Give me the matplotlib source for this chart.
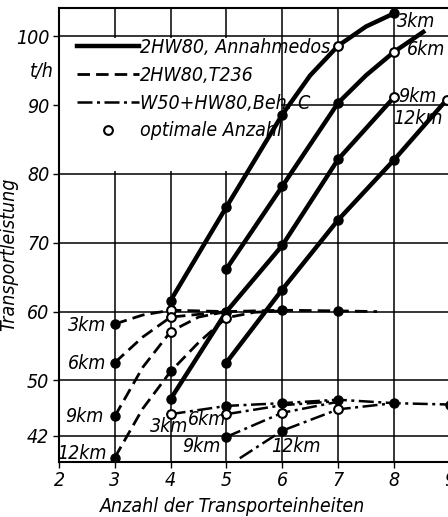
import matplotlib
matplotlib.use("Agg")
import matplotlib.pyplot as plt
from matplotlib import font_manager as fm
from matplotlib.lines import Line2D
from matplotlib.patches import Rectangle

# narrow italic lettering like the original; take what is installed
fonts = fm.fontManager.ttflist
if any(f.name == 'Liberation Sans Narrow' for f in fonts):
    plt.rcParams['font.family'] = ['Liberation Sans Narrow', 'DejaVu Sans']
elif any(f.name == 'DejaVu Sans' and 'ondensed' in f.fname for f in fonts):
    plt.rcParams['font.family'] = ['DejaVu Sans']
    plt.rcParams['font.stretch'] = 'condensed'
else:
    plt.rcParams['font.family'] = ['Liberation Sans', 'DejaVu Sans']
plt.rcParams['font.style'] = 'italic'
FS = 14

# x = Anzahl der Transporteinheiten, y = t/h
dist_labels = ['3km', '6km', '9km', '12km']

# 2HW80, Annahmedos. (solid)
annahme_x = [[4, 5, 6, 6.5, 7, 7.5, 8], [5, 6, 7, 7.5, 8, 8.56], [4, 5, 6, 7, 8], [5, 6, 7, 8, 8.95]]
annahme_y = [[61.6, 75.2, 88.6, 94.3, 98.6, 101.4, 103.3],
             [66.2, 78.2, 90.3, 94.3, 97.7, 100.8],
             [47.3, 60.0, 69.6, 82.1, 91.1],
             [52.6, 63.2, 73.3, 82.0, 90.8]]
annahme_marks = ['fff-o-f', 'ff-fo-', 'ffffo', 'ffffo']
annahme_marks[1] = 'fff-o-'

# 2HW80, T236 (dashed)
t236_x = [[3, 3.5, 4, 5, 6, 7, 7.7], [3, 3.5, 4, 5], [3, 3.5, 4, 4.5, 5], [3, 3.5, 4, 4.5, 5, 5.5, 6]]
t236_y = [[58.2, 59.5, 60.2, 60.0, 60.2, 60.1, 60.0],
          [52.6, 56.3, 59.2, 60.0],
          [44.8, 51.9, 57.1, 59.2, 60.0],
          [38.8, 45.9, 51.3, 55.5, 59.1, 59.9, 60.1]]
t236_marks = ['f-offf-', 'f-o-', 'f-o--', 'f-f-o--']

# W50+HW80, Beh. C (dash-dot)
behc_x = [[4, 5, 6, 7, 8, 9], [5, 6, 7], [5, 6, 7], [5.24, 6, 7, 8]]
behc_y = [[45.1, 46.3, 46.7, 47.2, 46.7, 46.5],
          [45.1, 46.4, 47.0],
          [41.8, 45.3, 46.9],
          [38.7, 42.7, 45.8, 46.7]]
behc_marks = ['offfff', 'o--', 'fo-', '-fo-']

xticks = [2, 3, 4, 5, 6, 7, 8, 9]
yticks = [42, 50, 60, 70, 80, 90, 100]

fig = plt.figure(figsize=(4.48, 5.17), dpi=100)
ax = fig.add_axes([0.1317, 0.107, 0.872, 0.8776])
ax.set_xlim(2, 9)
ax.set_ylim(38.2, 104.1)
ax.set_xticks(xticks)
ax.set_yticks(yticks)
ax.grid(True, color='black', linewidth=1.1)
ax.set_axisbelow(True)
for s in ax.spines.values():
    s.set_linewidth(1.5)
ax.spines['right'].set_visible(False)
ax.tick_params(length=4, width=1, pad=3, labelsize=FS)

# white area behind the legend
ax.add_patch(Rectangle((2.02, 80.4), 3.95, 19.3, facecolor='white', edgecolor='none', zorder=1))

SOLID = '-'
DASHED = (0, (4.5, 2.2))
DASHDOT = (0, (6, 1.8, 1.2, 1.8))


def draw(xs, ys, marks, ls, lw):
    for x, y, m in zip(xs, ys, marks):
        ax.plot(x, y, color='black', linestyle=ls, linewidth=lw, zorder=3,
                solid_capstyle='butt', dash_capstyle='butt', solid_joinstyle='round')
        for xi, yi, mi in zip(x, y, m):
            if mi == 'f':
                ax.plot(xi, yi, 'o', color='black', markersize=6.5, zorder=4)
            elif mi == 'o':
                ax.plot(xi, yi, 'o', mfc='white', mec='black', mew=1.5, markersize=6.3, zorder=5)


draw(annahme_x, annahme_y, annahme_marks, SOLID, 3.2)
draw(t236_x, t236_y, t236_marks, DASHED, 2.0)
draw(behc_x, behc_y, behc_marks, DASHDOT, 1.8)

# curve labels
for lab, (x, y) in zip(dist_labels, [(8.05, 102.1), (8.23, 98.0), (8.08, 91.2), (7.99, 88.1)]):
    ax.text(x, y, lab, ha='left', va='center', fontsize=FS, zorder=6)
for lab, (x, y) in zip(dist_labels, [(2.84, 58.0), (2.84, 52.4), (2.80, 44.8), (2.86, 39.4)]):
    ax.text(x, y, lab, ha='right', va='center', fontsize=FS, zorder=6)
for lab, (x, y) in zip(dist_labels, [(3.63, 43.3), (4.31, 44.3), (4.2, 40.4), (5.81, 40.4)]):
    ax.text(x, y, lab, ha='left', va='center', fontsize=FS, zorder=6)

handles = [
    Line2D([], [], color='black', linestyle=SOLID, linewidth=3.2),
    Line2D([], [], color='black', linestyle=DASHED, linewidth=2.0),
    Line2D([], [], color='black', linestyle=DASHDOT, linewidth=1.8),
    Line2D([], [], linestyle='none', marker='o', mfc='white', mec='black', mew=1.5, markersize=6.3),
]
names = ['2HW80, Annahmedos.', '2HW80,T236', 'W50+HW80,Beh. C', 'optimale Anzahl']
leg = ax.legend(handles, names, loc='upper left', bbox_to_anchor=(0.02, 0.955),
                frameon=False, borderpad=0, handlelength=3.2, handletextpad=0.05,
                labelspacing=0.45, fontsize=FS)
leg.set_zorder(6)

ax.annotate('t/h', xy=(0, 94.8), xycoords=('axes fraction', 'data'),
            xytext=(-4, 0), textcoords='offset points', ha='right', va='center', fontsize=FS)
ax.set_xlabel('Anzahl der Transporteinheiten', fontsize=FS)
ax.set_ylabel('Transportleistung', fontsize=FS)
ax.xaxis.set_label_coords(0.443, -0.078)
ax.yaxis.set_label_coords(-0.105, 0.456)

fig.savefig('out.png', dpi=100)
